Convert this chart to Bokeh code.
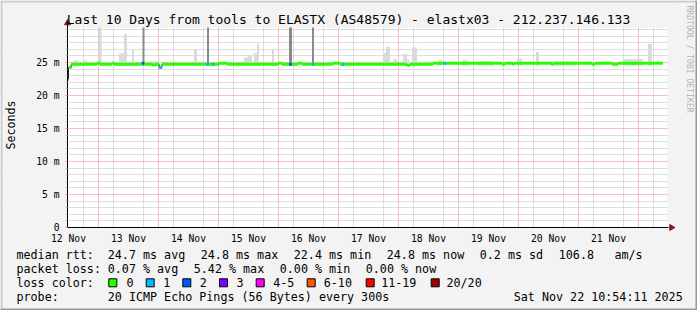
import numpy as np
from bokeh.plotting import figure
from bokeh.models import Range1d, FixedTicker
from bokeh.core.properties import value
from bokeh.embed import file_html
from bokeh.resources import INLINE

# ---------------- data (time in hours since 12 Nov 00:00, values in ms) -------------
day_labels = ["12 Nov", "13 Nov", "14 Nov", "15 Nov", "16 Nov",
              "17 Nov", "18 Nov", "19 Nov", "20 Nov", "21 Nov"]
label_hours = [12, 36, 60, 84, 108, 132, 156, 180, 204, 228]
midnight_hours = [24, 48, 72, 96, 120, 144, 168, 192, 216, 240]
six_hour_marks = [18, 30, 42, 54, 66, 78, 90, 102, 114, 126, 138, 150, 162,
                  174, 186, 198, 210, 222, 234, 246]
y_major = [0, 5, 10, 15, 20, 25]
y_labels = ["0", "5 m", "10 m", "15 m", "20 m", "25 m"]
y_minor = [1, 2, 3, 4, 6, 7, 8, 9, 11, 12, 13, 14, 16, 17, 18, 19,
           21, 22, 23, 24, 26, 27, 28, 29, 30]

# median rtt as a step series (start time of each level, level in ms)
med_t = [11.6, 12.0, 13.1, 23.4, 24.6, 29.4, 30.2, 41.4, 42.6, 45.4, 47.0,
         48.2, 49.4, 72.2, 75.4, 95.8, 97.4, 103.8, 105.4, 117.8, 120.6,
         147.2, 148.6, 157.8, 185.4, 186.6, 189.6, 190.2, 205.2, 205.8,
         221.4, 222.6, 229.4, 231.8]
med_ms = [22.4, 24.25, 24.75, 24.9, 24.75, 24.9, 24.75, 24.9, 24.75, 24.65, 24.75,
          24.25, 24.75, 24.9, 24.75, 24.9, 24.75, 24.9, 24.75, 24.9, 24.75,
          24.6, 24.75, 24.9, 24.75, 24.9, 24.75, 24.9, 24.75, 24.9,
          24.75, 24.9, 24.75, 24.9]
med_end = 249.8

# packet loss events (time, lost pings out of 20)
loss_t = [41.8, 48.8, 67.6, 69.8, 100.8, 109.8, 121.8, 162.6]
loss_n = [2, 1, 1, 1, 2, 1, 1, 1]

# light smoke (start, end, max rtt ms)
smoke_t0 = [13.8, 17.8, 24.0, 32.2, 34.2, 37.4, 44.6, 62.2, 82.2, 83.8, 86.2,
            87.4, 93.4, 137.8, 139.0, 141.8, 145.8, 147.4, 149.4, 153.8,
            159.8, 169.4, 176.0, 191.4, 199.0, 205.0, 233.8, 243.8]
smoke_t1 = [15.8, 19.4, 25.2, 34.2, 35.4, 38.2, 48.6, 63.4, 83.8, 85.4, 87.4,
            88.2, 94.2, 139.0, 140.6, 143.4, 147.4, 148.2, 151.4, 156.6,
            161.4, 171.8, 182.0, 193.4, 200.2, 215.0, 241.8, 245.4]
smoke_top = [25.3, 25.3, 30.4, 26.4, 29.3, 26.9, 25.2, 26.9, 25.75, 26.1, 26.4,
             27.85, 26.9, 26.4, 27.4, 25.5, 26.3, 25.5, 27.3, 25.15,
             25.35, 25.35, 25.2, 25.6, 26.6, 25.15, 25.5, 27.85]
smoke_floor = 24.5

# dense smoke spikes (start, end) reaching beyond the top of the graph
spike_t0 = [41.6, 67.4, 100.2, 109.4]
spike_t1 = [42.4, 68.2, 101.4, 110.2]
spike_top = [31.5, 31.5, 31.5, 31.5]

loss_colors = {0: "#26ff00", 1: "#00b8ff", 2: "#0059ff", 3: "#7e00ff",
               4: "#ff00ff", 5: "#ff00ff"}
legend_keys = ["0", "1", "2", "3", "4-5", "6-10", "11-19", "20/20"]
legend_cols = ["#26ff00", "#00b8ff", "#0059ff", "#7e00ff", "#ff00ff",
               "#ff5500", "#ff0000", "#a10000"]

# ---------------- layout constants (pixels) ----------------
W, H = 697, 310
FL, FR, FT, FB = 67, 667, 27, 227
X0, X1 = 11.6, 251.6          # time shown on the canvas (2.5 px per hour)
Y0, Y1 = 0.0, 200 / 6.6       # rtt shown on the canvas (6.6 px per ms)
MONO = "DejaVu Sans Mono"
BG = "#f3f3f3"


def px2h(X):
    return X0 + (X - FL) * (X1 - X0) / (FR - FL)


def py2ms(Y):
    return Y0 + (FB - Y) * (Y1 - Y0) / (FB - FT)


p = figure(width=W, height=H,
           x_range=Range1d(px2h(0), px2h(W)), y_range=Range1d(py2ms(H), py2ms(0)),
           output_backend="svg", toolbar_location=None, title_location=None,
           min_border=0, min_border_left=0, min_border_right=0,
           min_border_top=0, min_border_bottom=0,
           background_fill_color=BG, border_fill_color=BG,
           outline_line_color=None)

# white canvas of the graph
p.quad(left=[X0], right=[X1], bottom=[Y0], top=[Y1], fill_color="white",
       line_color=None, level="image")

# grids
p.xgrid.ticker = FixedTicker(ticks=midnight_hours, minor_ticks=six_hour_marks)
p.ygrid.ticker = FixedTicker(ticks=y_major[1:], minor_ticks=y_minor)
for g in (p.xgrid, p.ygrid):
    g.grid_line_color = "#ea8080"
    g.grid_line_alpha = 1.0
    g.grid_line_width = 1
    g.grid_line_dash = "1 1"
    g.minor_grid_line_color = "#bdbdbd"
    g.minor_grid_line_alpha = 1.0
    g.minor_grid_line_dash = "1 1"

# x axis (drawn at 0 ms)
p.xaxis.fixed_location = Y0
p.xaxis.bounds = (X0, px2h(668))
p.xaxis.ticker = FixedTicker(ticks=label_hours)
p.xaxis.major_label_overrides = dict(zip(label_hours, day_labels))
p.xaxis.major_tick_in = 0
p.xaxis.major_tick_out = 0
p.xaxis.minor_tick_in = 0
p.xaxis.minor_tick_out = 0
p.xaxis.major_tick_line_color = None
p.xaxis.minor_tick_line_color = None
p.xaxis.major_label_standoff = 5
p.xaxis.major_label_text_font = MONO
p.xaxis.major_label_text_font_size = "9.7px"
p.xaxis.major_label_text_color = "black"
p.xaxis.axis_line_color = "black"

# y axis (drawn at the start time)
p.yaxis.fixed_location = X0
p.yaxis.bounds = (Y0, py2ms(22))
p.yaxis.ticker = FixedTicker(ticks=y_major, minor_ticks=y_minor)
p.yaxis.major_label_overrides = dict(zip(y_major, y_labels))
p.yaxis.major_tick_in = 0
p.yaxis.major_tick_out = 2
p.yaxis.minor_tick_in = 0
p.yaxis.minor_tick_out = 2
p.yaxis.major_tick_line_color = "#ef8f8f"
p.yaxis.minor_tick_line_color = "#c4c4c4"
p.yaxis.major_label_standoff = 6
p.yaxis.major_label_text_font = MONO
p.yaxis.major_label_text_font_size = "9.7px"
p.yaxis.major_label_text_color = "black"
p.yaxis.axis_line_color = "black"
p.yaxis.axis_label = "Seconds"
p.yaxis.axis_label_text_font = MONO
p.yaxis.axis_label_text_font_size = "11.7px"
p.yaxis.axis_label_text_font_style = "normal"
p.yaxis.axis_label_text_color = "black"
p.yaxis.axis_label_standoff = 15

# smoke
p.quad(left=smoke_t0, right=smoke_t1, bottom=smoke_floor, top=smoke_top,
       fill_color="#dadada", line_color=None)
p.quad(left=spike_t0, right=spike_t1, bottom=smoke_floor, top=spike_top,
       fill_color="#8a8a8a", line_color=None)

# median: thin dark connector + thick green levels
mt = np.array(med_t)
mv = np.array(med_ms)
mt_next = np.append(mt[1:], med_end)
p.step(x=list(mt) + [med_end], y=list(mv) + [mv[-1]], mode="after",
       line_color="#202020", line_width=1)
p.segment(x0=mt, x1=mt_next, y0=mv, y1=mv, line_color=loss_colors[0],
          line_width=3)

# loss colouring of the median
lt = np.array(loss_t)
idx = np.searchsorted(mt, lt, side="right") - 1
ly = mv[idx]
LOSS_HALF = 0.5
p.segment(x0=lt - LOSS_HALF, x1=lt + LOSS_HALF, y0=ly, y1=ly,
          line_color=[loss_colors[n] for n in loss_n], line_width=3)

# background outside the graph canvas (hides grid lines there)
covers = [(0, FL, 0, H), (FR, W, 0, H), (0, W, 0, FT), (0, W, FB + 0.5, H)]
p.quad(left=[px2h(c[0]) for c in covers], right=[px2h(c[1]) for c in covers],
       top=[py2ms(c[2]) for c in covers], bottom=[py2ms(c[3]) for c in covers],
       fill_color=BG, line_color=None)

# 3D frame of the image
frame = [(0, W, 0, 2, "#cbcbcb"), (0, 2, 0, H, "#cbcbcb"),
         (W - 2, W, 0, H, "#999999"), (0, W, H - 2, H, "#999999")]
p.quad(left=[px2h(f[0]) for f in frame], right=[px2h(f[1]) for f in frame],
       top=[py2ms(f[2]) for f in frame], bottom=[py2ms(f[3]) for f in frame],
       fill_color=[f[4] for f in frame], line_color=None)

# axis arrows
ARROW = "#7f1d1d"
p.scatter(x=[X0], y=[py2ms(22.5)], marker="triangle", size=6,
          fill_color=ARROW, line_color=ARROW)
p.scatter(x=[px2h(671)], y=[Y0], marker="triangle", size=6, angle=-np.pi / 2,
          fill_color=ARROW, line_color=ARROW)


def txt(X, Y, s, size="11.7px", align="left", color="black", angle=0.0):
    p.text(x=[px2h(X)], y=[py2ms(Y)], text=[s], text_font=value(MONO),
           text_font_size=value(size), text_align=align,
           text_baseline="middle", text_color=color, angle=angle)


# title
txt(348, 19, "Last 10 Days from tools to ELASTX (AS48579) - elastx03 - 212.237.146.133",
    size="13px", align="center")
# vertical credit
txt(689.5, 5, "RRDTOOL / TOBI OETIKER", size="8.1px", color="#b4b4b4",
    angle=-np.pi / 2)

# legend rows
r1, r2, r3, r4 = 254, 268.3, 282.3, 296
txt(16, r1, "median rtt:")
txt(107.3, r1, "24.7 ms avg")
txt(200.3, r1, "24.8 ms max")
txt(293.3, r1, "22.4 ms min")
txt(386.3, r1, "24.8 ms now")
txt(479.3, r1, "0.2 ms sd")
txt(558.3, r1, "106.8")
txt(614, r1, "am/s")

txt(16, r2, "packet loss:")
txt(107.3, r2, "0.07 % avg")
txt(193.3, r2, "5.42 % max")
txt(279.3, r2, "0.00 % min")
txt(365.3, r2, "0.00 % now")

txt(16, r3, "loss color:")
sq_x = [108.3, 145.7, 182.3, 219, 255.7, 306.7, 365.7, 430.7]
tx_x = [126, 162.7, 199.3, 236, 272.7, 323.3, 380.7, 446]
p.quad(left=[px2h(s) for s in sq_x], right=[px2h(s + 8) for s in sq_x],
       top=py2ms(r3 - 4), bottom=py2ms(r3 + 4),
       fill_color=legend_cols, line_color="black", line_width=1)
for tx, key in zip(tx_x, legend_keys):
    txt(tx, r3, key)

txt(16, r4, "probe:")
txt(107.3, r4, "20 ICMP Echo Pings (56 Bytes) every 300s")
txt(513.3, r4, "Sat Nov 22 10:54:11 2025")

open("out.html", "w").write(file_html(p, INLINE))
